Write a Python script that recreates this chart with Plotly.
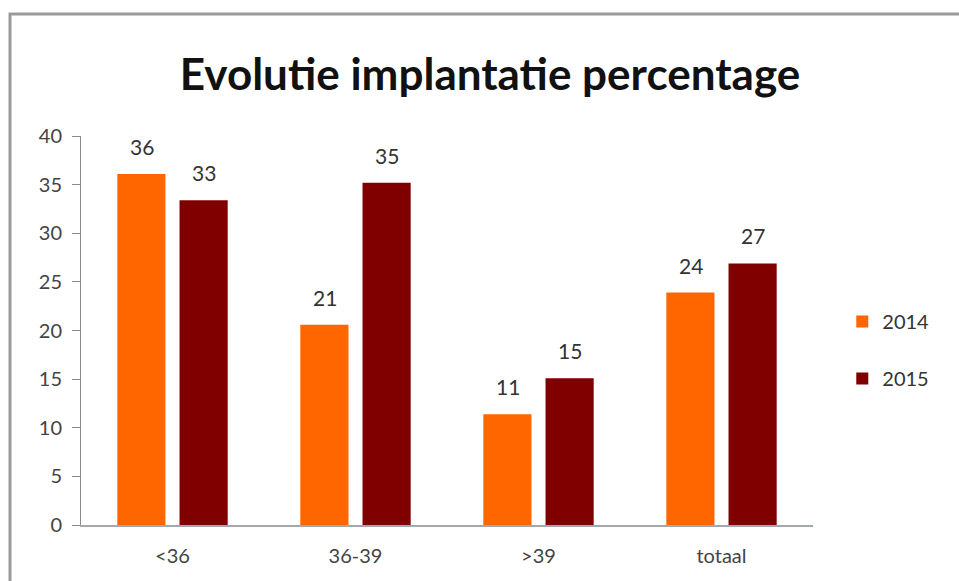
import plotly.graph_objects as go

categories = ["<36", "36-39", ">39", "totaal"]
values_2014 = [36.1, 20.6, 11.4, 23.9]
values_2015 = [33.4, 35.2, 15.1, 26.9]
series_names = ["2014", "2015"]
colors = ["#FF6600", "#800000"]

FONT = "Lato, Open Sans, sans-serif"

fig = go.Figure()
for name, vals, col in zip(series_names, [values_2014, values_2015], colors):
    fig.add_trace(go.Bar(
        x=categories, y=vals, name=name, legendgroup=name,
        marker=dict(color=col, line=dict(width=0)),
        cliponaxis=False,
    ))

# value labels above the bars, anchored on the data values
for vals, xs in zip([values_2014, values_2015], [-31, 31]):
    for cat, v in zip(categories, vals):
        fig.add_annotation(x=cat, y=v, xref="x", yref="y",
                           text=f"{v:.0f}", showarrow=False,
                           xshift=xs, yshift=13, yanchor="bottom",
                           font=dict(size=21, color="#333333", family=FONT))

fig.update_layout(
    width=959, height=581,
    margin=dict(l=81, r=146, t=136, b=56),
    paper_bgcolor="white", plot_bgcolor="white",
    barmode="group", bargap=0.32, bargroupgap=0.226,
    font=dict(family=FONT, color="#444444"),
    title=dict(text="<b>Evolutie implantatie percentage</b>",
               font=dict(size=44, color="#111111", family=FONT),
               x=0.511, xanchor="center", y=1 - 75/581, yanchor="middle",
               xref="container", yref="container"),
    legend=dict(x=1.04, y=0.45, xanchor="left", yanchor="middle",
                traceorder="grouped", tracegroupgap=28,
                font=dict(size=20, color="#333333"),
                itemwidth=30),
    showlegend=True,
    shapes=[dict(type="rect", xref="paper", yref="paper",
                 x0=-71/732, x1=1.4, y0=-0.3, y1=(525-14)/389,
                 line=dict(color="#9a9a9a", width=3), layer="below")],
)
fig.update_yaxes(range=[0, 40], dtick=5, showgrid=False, zeroline=False,
                 showline=True, linecolor="#8a8a8a", linewidth=1,
                 ticks="outside", ticklen=8, tickcolor="#8a8a8a",
                 ticklabelstandoff=6,
                 tickfont=dict(size=20, color="#444444"))
fig.update_xaxes(showgrid=False, showline=True, linecolor="#a0a8b0", linewidth=2,
                 ticks="", ticklabelstandoff=12,
                 tickfont=dict(size=20, color="#444444"))

fig.write_html("out.html")
